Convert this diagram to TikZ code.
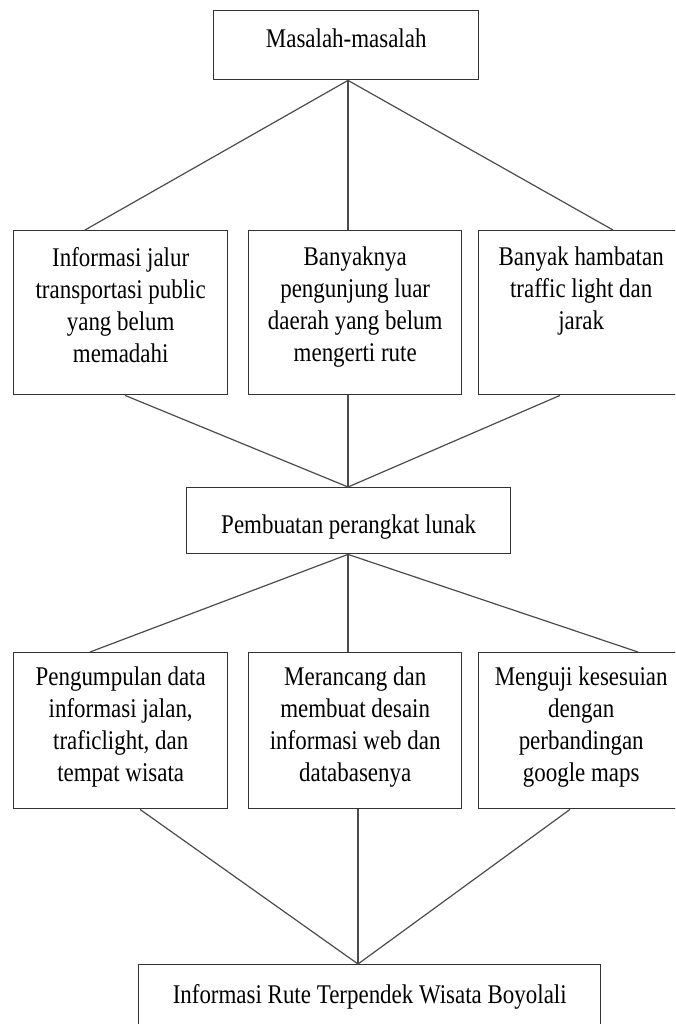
\documentclass[tikz,border=0pt]{standalone}
\usepackage{fontspec}
\setmainfont{Liberation Serif}[FakeStretch=0.85]
\usetikzlibrary{calc}
\newcommand{\bxtext}[4]{\begin{minipage}[t][#2pt][t]{#1pt}\centering\vspace*{#3pt}#4\end{minipage}}
\tikzset{
  box/.style={draw=black!80, line width=1.4pt, inner sep=0pt, anchor=north west,
    fill=white, font=\fontsize{27}{32}\selectfont},
  conn/.style={draw=black!70, line width=1.2pt}
}
\begin{document}
\begin{tikzpicture}[x=1pt,y=-1pt]
\useasboundingbox (0,0) rectangle (675,1024);
\clip (0,0) rectangle (675,1024);
\fill[white] (0,0) rectangle (675,1024);

\node[box] (top) at (213,10) {\bxtext{265}{69}{18.5}{Masalah-masalah}};

\node[box] (a1) at (13,230) {\bxtext{214}{164}{16.5}{Informasi jalur\\ transportasi public\\ yang belum\\ memadahi}};
\node[box] (a2) at (248,230) {\bxtext{213}{164}{16.5}{Banyaknya\\ pengunjung luar\\ daerah yang belum\\ mengerti rute}};
\node[box] (a3) at (478,230) {\bxtext{205}{164}{16.5}{Banyak hambatan\\ traffic light dan\\ jarak}};

\node[box] (mid) at (186,487) {\bxtext{324}{66}{27.5}{Pembuatan perangkat lunak}};

\node[box] (b1) at (13,652) {\bxtext{214}{156}{14.5}{Pengumpulan data\\ informasi jalan,\\ traficlight, dan\\ tempat wisata}};
\node[box] (b2) at (248,652) {\bxtext{213}{156}{14.5}{Merancang dan\\ membuat desain\\ informasi web dan\\ databasenya}};
\node[box] (b3) at (478,652) {\bxtext{205}{156}{14.5}{Menguji kesesuian\\ dengan\\ perbandingan\\ google maps}};

\node[box] (bot) at (138,964) {\bxtext{462}{100}{19.5}{Informasi Rute Terpendek Wisata Boyolali}};

\draw[conn] ([xshift=135]top.south west) -- ([xshift=72]a1.north west);
\draw[conn] ([xshift=135]top.south west) -- ([xshift=100]a2.north west);
\draw[conn] ([xshift=135]top.south west) -- ([xshift=135]a3.north west);

\draw[conn] ([xshift=112]a1.south west) -- ([xshift=162]mid.north west);
\draw[conn] ([xshift=100]a2.south west) -- ([xshift=162]mid.north west);
\draw[conn] ([xshift=82]a3.south west) -- ([xshift=162]mid.north west);

\draw[conn] ([xshift=162]mid.south west) -- ([xshift=77]b1.north west);
\draw[conn] ([xshift=162]mid.south west) -- ([xshift=100]b2.north west);
\draw[conn] ([xshift=162]mid.south west) -- ([xshift=160]b3.north west);

\draw[conn] ([xshift=127]b1.south west) -- ([xshift=220]bot.north west);
\draw[conn] ([xshift=110]b2.south west) -- ([xshift=220]bot.north west);
\draw[conn] ([xshift=92]b3.south west) -- ([xshift=220]bot.north west);
\end{tikzpicture}
\end{document}
